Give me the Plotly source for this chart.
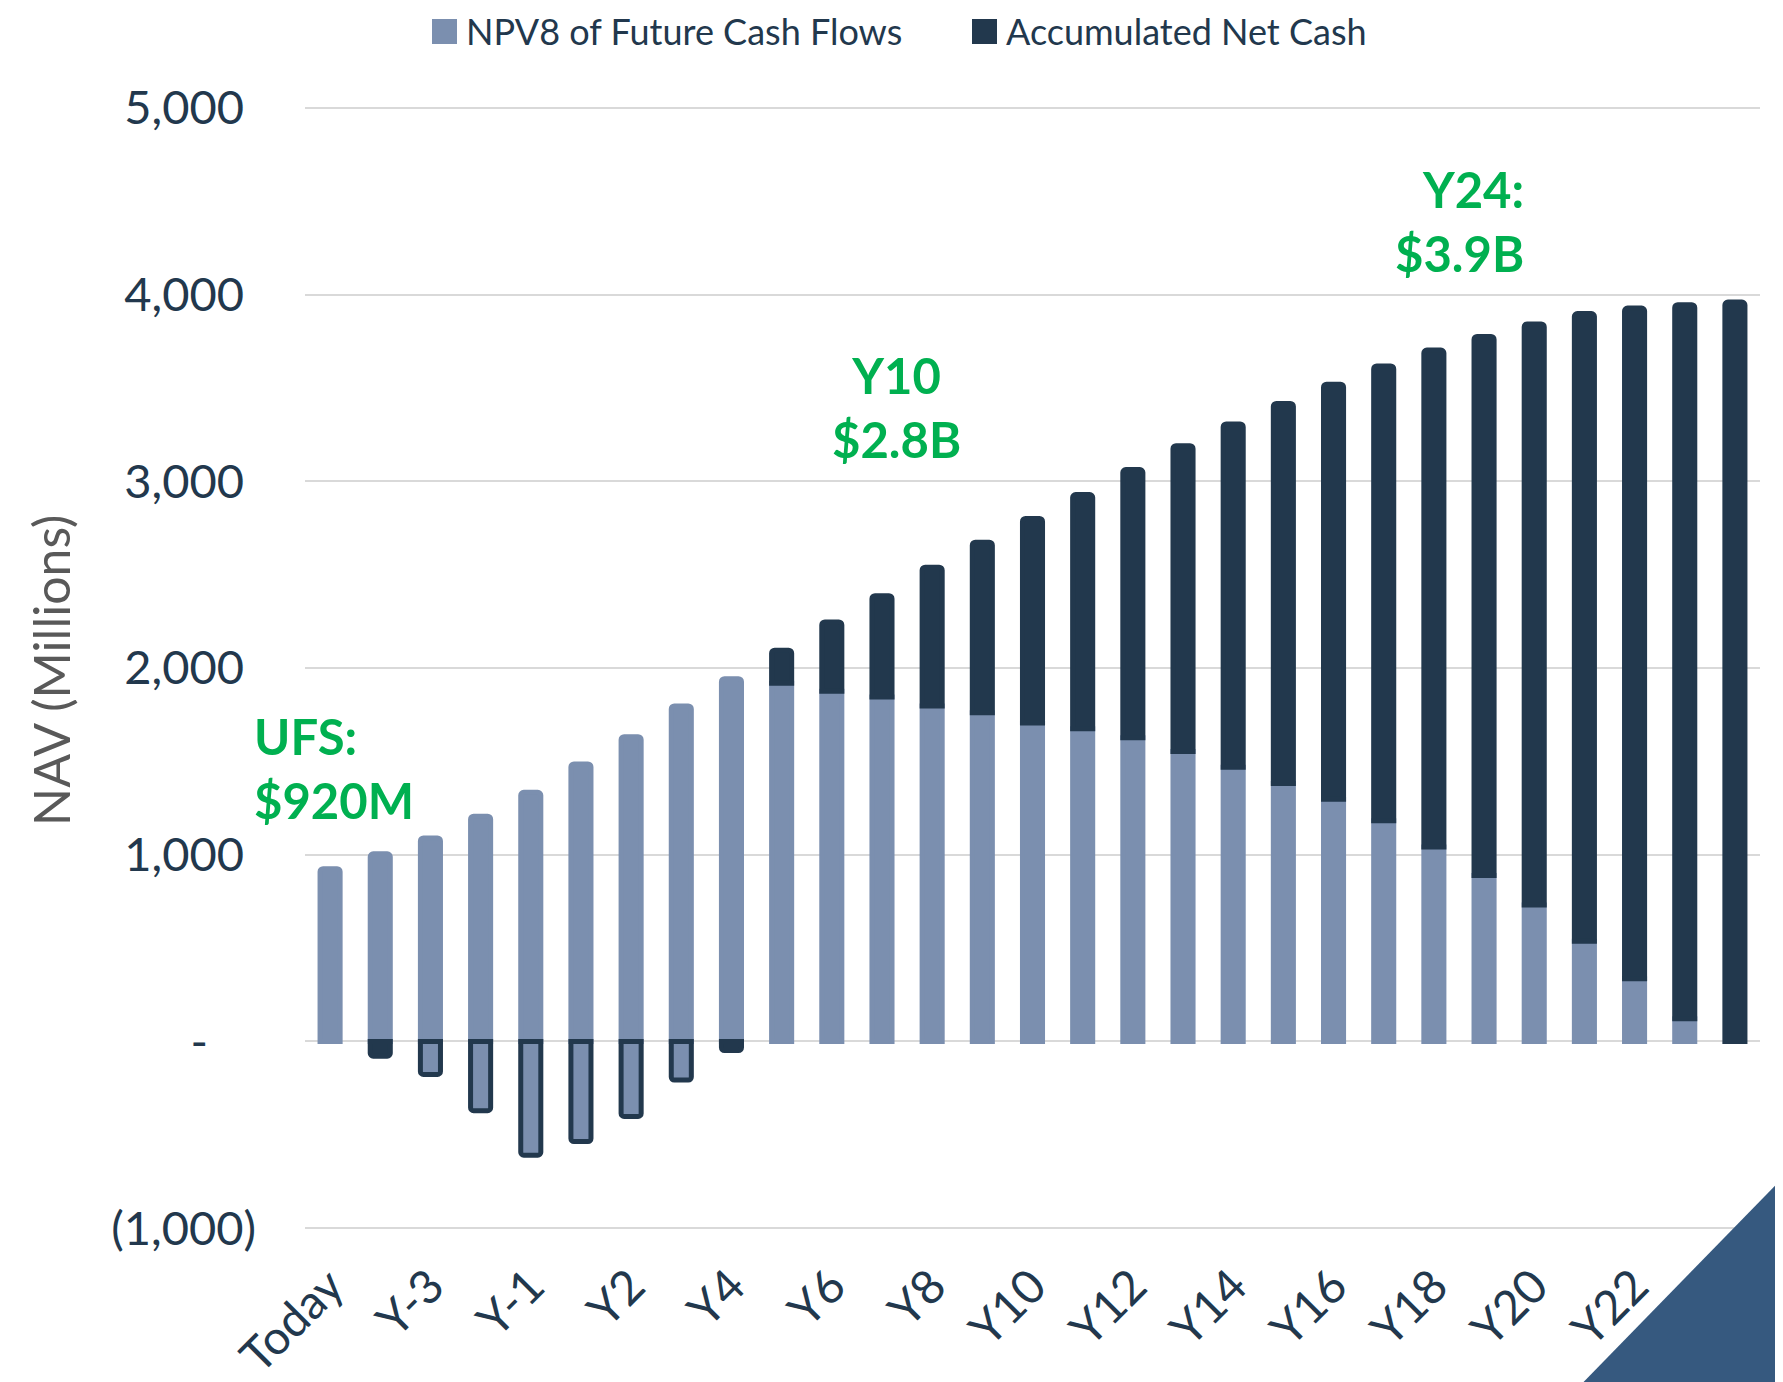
import plotly.graph_objects as go

categories = ["Today", "Y-4", "Y-3", "Y-2", "Y-1", "Y1", "Y2", "Y3", "Y4", "Y5", "Y6",
              "Y7", "Y8", "Y9", "Y10", "Y11", "Y12", "Y13", "Y14", "Y15", "Y16",
              "Y17", "Y18", "Y19", "Y20", "Y21", "Y22", "Y23", "Y24"]

npv8 = [925, 1005, 1090, 1206, 1334, 1486, 1632, 1797, 1943, 1918, 1876,
        1845, 1797, 1760, 1705, 1675, 1626, 1553, 1468, 1382, 1297,
        1182, 1041, 889, 731, 536, 335, 122, 0]

net_cash = [0, -79, -177, -371, -609, -536, -402, -207, -49, 177, 371,
            542, 743, 914, 1096, 1254, 1437, 1638, 1839, 2035, 2223,
            2436, 2662, 2887, 3112, 3362, 3593, 3824, 3960]

y_tick_vals = [-1000, 0, 1000, 2000, 3000, 4000, 5000]
y_tick_text = ["(1,000)", "-\u00a0\u00a0\u00a0\u00a0", "1,000\u00a0", "2,000\u00a0",
               "3,000\u00a0", "4,000\u00a0", "5,000\u00a0"]

x_tick_vals = categories[::2]

LIGHT = "#7B8FAF"
DARK = "#22384D"
GREEN = "#00B050"
FONT = "Lato"

W, H = 1783, 1382
OFF = 8  # page body margin
L, R, T, B = 297, 31, 98, 160
PW, PH = W - L - R, H - T - B
SX0 = L + OFF           # plot left in screen px
SY1 = H - B + OFF       # plot bottom in screen px


def px(xs):
    return (xs - SX0) / PW


def py(ys):
    return (SY1 - ys) / PH


npv_plot = [v if v != 0 else None for v in npv8]
nc_plot = [v if v != 0 else None for v in net_cash]
nc_fill = [LIGHT if v < -100 else DARK for v in net_cash]

fig = go.Figure()
fig.add_trace(go.Bar(
    x=categories, y=npv_plot, name="NPV8 of Future Cash Flows", showlegend=False,
    marker=dict(color=LIGHT, line=dict(color=LIGHT, width=5)),
))
fig.add_trace(go.Bar(
    x=categories, y=nc_plot, name="Accumulated Net Cash", showlegend=False,
    marker=dict(color=nc_fill, line=dict(color=DARK, width=5)),
))

fig.update_layout(
    width=W, height=H,
    margin=dict(l=L, r=R, t=T, b=B, autoexpand=False),
    barmode="relative", bargap=0.6, barcornerradius=3,
    plot_bgcolor="white", paper_bgcolor="white",
    font=dict(family=FONT, color=DARK),
    showlegend=False,
    xaxis=dict(type="category", tickmode="array", tickvals=x_tick_vals,
               tickangle=-45, tickfont=dict(size=47, color=DARK),
               showgrid=False, showline=False, ticks="", ticklabelstandoff=18),
    yaxis=dict(range=[-1010, 5010], tickmode="array", tickvals=y_tick_vals,
               ticktext=y_tick_text, tickfont=dict(size=47, color=DARK),
               showgrid=True, gridcolor="#D9D9D9", gridwidth=2,
               zeroline=True, zerolinecolor="#D9D9D9", zerolinewidth=2,
               showline=False, ticks="", ticklabelstandoff=48),
)

# legend (custom, to match large square swatches)
legend_items = [("NPV8 of Future Cash Flows", LIGHT, 432), ("Accumulated Net Cash", DARK, 972)]
for label, color, x0 in legend_items:
    fig.add_shape(type="rect", xref="paper", yref="paper",
                  x0=px(x0), x1=px(x0 + 25), y0=py(44), y1=py(19),
                  fillcolor=color, line=dict(width=0))
    fig.add_annotation(text=label, xref="paper", yref="paper",
                       x=px(x0 + 32), xanchor="left", y=py(31), yanchor="middle",
                       showarrow=False, font=dict(size=36, color=DARK, family=FONT))

fig.add_annotation(text="NAV (Millions)", xref="paper", yref="paper",
                   x=px(51), xanchor="center", y=py(671), yanchor="middle",
                   textangle=-90, showarrow=False,
                   font=dict(size=50, color="#595959", family=FONT))

fig.add_annotation(text="<b>UFS:</b><br><b>$920M</b>", xref="paper", yref="paper",
                   x=px(252), xanchor="left", y=py(768), yanchor="middle",
                   align="left", showarrow=False,
                   font=dict(size=49, color=GREEN, family=FONT))
fig.add_annotation(text="<b>Y10</b><br><b>$2.8B</b>", xref="paper", yref="paper",
                   x=px(896), xanchor="center", y=py(407), yanchor="middle",
                   align="center", showarrow=False,
                   font=dict(size=49, color=GREEN, family=FONT))
fig.add_annotation(text="<b>Y24:</b><br><b>$3.9B</b>", xref="paper", yref="paper",
                   x=px(1526), xanchor="right", y=py(221), yanchor="middle",
                   align="right", showarrow=False,
                   font=dict(size=49, color=GREEN, family=FONT))

fig.add_shape(type="path", xref="paper", yref="paper", layer="above",
              path=(f"M {px(1566)} {py(1400)} L {px(1800)} {py(1400)} "
                    f"L {px(1800)} {py(1160)} Z"),
              fillcolor="#36597F", line=dict(width=0))

fig.write_html("out.html")
